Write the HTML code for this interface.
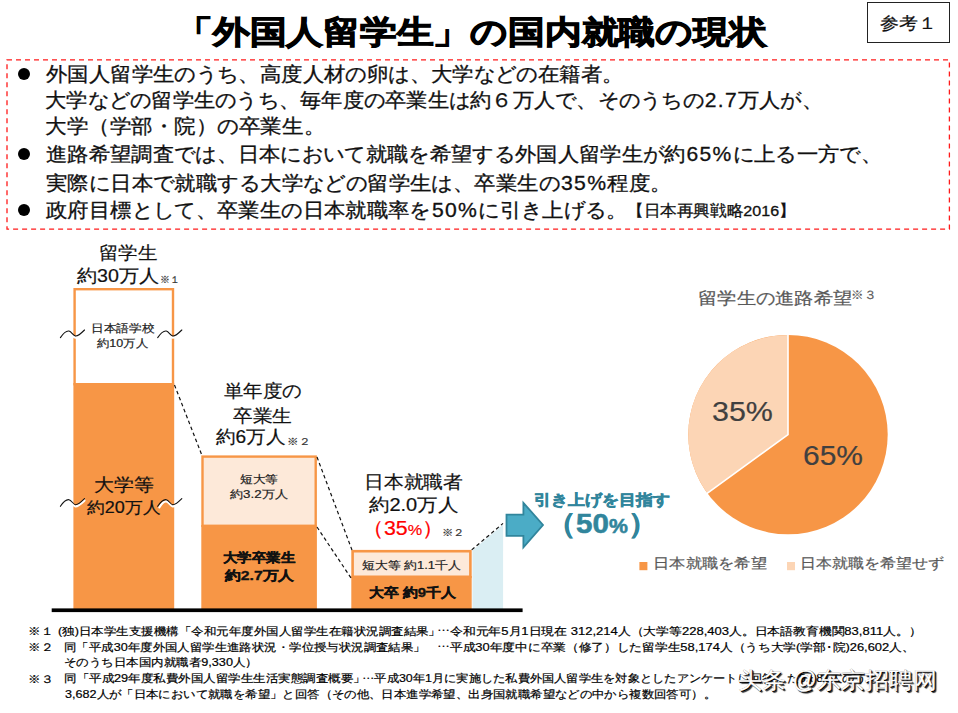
<!DOCTYPE html>
<html lang="ja">
<head>
<meta charset="utf-8">
<title>外国人留学生の国内就職の現状</title>
<style>
*{margin:0;padding:0;box-sizing:border-box;}
html,body{width:958px;height:713px;background:#fff;overflow:hidden;}
body{font-family:"Liberation Sans",sans-serif;color:#000;position:relative;}
.abs{position:absolute;white-space:nowrap;}
#title{font-weight:bold;line-height:1.2;-webkit-text-stroke:1px #000;transform-origin:0 0;color:#000;}
#ref{left:867.2px;top:1.6px;width:82.8px;height:41.2px;border:1.3px solid #222;font-size:0;}
.bl{-webkit-text-stroke:0.3px currentColor;font-size:19.8px;line-height:28px;left:45.5px;color:#111;transform-origin:0 0;transform:scaleX(1.07);}
.el{position:relative;top:-0.32em;}
.n{letter-spacing:1.2px;margin-left:1px;}
.dot{left:17.5px;width:12.5px;height:12.5px;border-radius:50%;background:#000;font-size:0;}
.t{transform-origin:0 0;line-height:1.2;color:#111;-webkit-text-stroke:0.2px currentColor;}
.f{color:#000;}
</style>
</head>
<body>
<div class="abs" id="title" style="left:176.07px;top:12.60px;font-size:32.00px;transform:scaleX(1.1493);">「外国人留学生」の国内就職の現状</div>
<div id="ref" class="abs"></div>
<div class="abs t" id="reft" style="left:879.93px;top:14.00px;font-size:16.80px;transform:scaleX(1.1149);color:#111;">参考１</div>

<!-- bullets -->
<div class="abs dot" style="top:67.5px">●</div>
<div class="abs bl" id="L1" style="left:46.10px;top:60px;transform:scaleX(1.0693)">外国人留学生のうち、高度人材の卵は、大学などの在籍者。</div>
<div class="abs bl" id="L2" style="left:44.51px;top:86px;transform:scaleX(1.0626)">大学などの留学生のうち、毎年度の卒業生は約６万人で、そのうちの<span class="n">2.7</span>万人が、</div>
<div class="abs bl" id="L3" style="left:45.49px;top:112px;transform:scaleX(1.0773)">大学（学部・院）の卒業生。</div>
<div class="abs dot" style="top:147.5px">●</div>
<div class="abs bl" id="L4" style="left:45.50px;top:140px;transform:scaleX(1.0659)">進路希望調査では、日本において就職を希望する外国人留学生が約<span class="n">65%</span>に上る一方で、</div>
<div class="abs bl" id="L5" style="left:45.50px;top:169px;transform:scaleX(1.0707)">実際に日本で就職する大学などの留学生は、卒業生の<span class="n">35%</span>程度。</div>
<div class="abs bl" id="L7" style="top:197px;left:627.16px;font-size:15.5px;transform:scaleX(1.0382)">【日本再興戦略2016】</div>
<div class="abs dot" style="top:203.5px">●</div>
<div class="abs bl" id="L6" style="left:45.50px;top:196px;transform:scaleX(1.0691)">政府目標として、卒業生の日本就職率を<span class="n">50%</span>に引き上げる。</div>

<!-- chart svg -->
<svg class="abs" style="left:0;top:0" width="958" height="713" viewBox="0 0 958 713">
  <rect x="7" y="59.8" width="942.4" height="169.3" fill="none" stroke="#ff1a1a" stroke-width="1.3" stroke-dasharray="5,4"/>
  <!-- bar 1 -->
  <rect x="73.4" y="383" width="100.8" height="226" fill="#f79646"/>
  <rect x="74.6" y="289.2" width="98.4" height="95" fill="#fff" stroke="#f79646" stroke-width="2.4"/>
  <!-- bar 2 -->
  <rect x="201.300" y="525" width="115.6" height="84" fill="#f79646"/>
  <rect x="202.500" y="456.6" width="113.2" height="69.2" fill="#fde9d9" stroke="#f79646" stroke-width="2.4"/>
  <!-- bar 3 -->
  <rect x="351.300" y="576" width="120.4" height="33" fill="#f79646"/>
  <rect x="352.600" y="551.2" width="117.8" height="25.6" fill="#fde9d9" stroke="#f79646" stroke-width="2.6"/>
  <!-- light blue -->
  <polygon points="472.400,550.4 503.100,524.4 503.100,609 472.400,609" fill="#daeef3"/>
  <!-- dashed connectors -->
  <g stroke="#111" stroke-width="1.2" stroke-dasharray="3.6,2.8" fill="none">
    <line x1="174.500" y1="385" x2="202" y2="455.5"/>
    <line x1="317" y1="457" x2="352" y2="550"/>
    <line x1="317" y1="527" x2="351" y2="578"/>
    <line x1="471.700" y1="549.9" x2="503" y2="523.4"/>
  </g>
  <!-- baseline -->
  <rect x="51.700" y="608.4" width="470.9" height="3.7" fill="#000"/>
  <!-- arrow -->
  <polygon points="506.500,514.6 523.400,514.6 523.400,502.8 543,525 523.400,547.4 523.400,535.8 506.500,535.8" fill="#4bacc6" stroke="#31859c" stroke-width="1.8" stroke-linejoin="miter"/>
  <!-- wave break marks -->
  <g fill="none" stroke-linecap="round">
    <g transform="translate(0,0)">
      <path d="M62,338.600 C64.500,334.800 66.800,332.400 69,332.700 C71.500,333 73,337.200 75.400,337.600 C78,338 81.500,334.600 84.500,331.800" stroke="#fff" stroke-width="2.2"/>
      <path d="M60.400,337.600 C63.500,333 66.500,330.600 69,331 C71.500,331.400 73,335.600 75.400,336 C78,336.400 81.500,333 84.500,330" stroke="#111" stroke-width="1.1"/>
    </g>
    <g transform="translate(97.3,0)">
      <path d="M62,338.600 C64.500,334.800 66.800,332.400 69,332.700 C71.500,333 73,337.200 75.400,337.600 C78,338 81.500,334.600 84.500,331.800" stroke="#fff" stroke-width="2.2"/>
      <path d="M60.400,337.600 C63.500,333 66.500,330.600 69,331 C71.500,331.400 73,335.600 75.400,336 C78,336.400 81.500,333 84.500,330" stroke="#111" stroke-width="1.1"/>
    </g>
    <g transform="translate(0,168.7)">
      <path d="M62,338.600 C64.500,334.800 66.800,332.400 69,332.700 C71.500,333 73,337.200 75.400,337.600 C78,338 81.500,334.600 84.500,331.800" stroke="#fff" stroke-width="2.2"/>
      <path d="M60.400,337.600 C63.500,333 66.500,330.600 69,331 C71.500,331.400 73,335.600 75.400,336 C78,336.400 81.500,333 84.500,330" stroke="#111" stroke-width="1.1"/>
    </g>
    <g transform="translate(97.3,168.7)">
      <path d="M62,338.600 C64.500,334.800 66.800,332.400 69,332.700 C71.500,333 73,337.200 75.400,337.600 C78,338 81.500,334.600 84.500,331.800" stroke="#fff" stroke-width="2.2"/>
      <path d="M60.400,337.600 C63.500,333 66.500,330.600 69,331 C71.500,331.400 73,335.600 75.400,336 C78,336.400 81.500,333 84.500,330" stroke="#111" stroke-width="1.1"/>
    </g>
  </g>
  <!-- pie -->
  <circle cx="788" cy="434.6" r="99.7" fill="#f79646"/>
  <path d="M788.0,434.6 L788.0,334.9 A99.7,99.7 0 0 0 707.3,493.2 Z" fill="#fcd5b5"/>
  <path d="M788.0,334.4 L788.0,434.6 L706.8,493.6" stroke="#fff" stroke-width="1.6" fill="none"/>
  <!-- legend squares -->
  <rect x="639.4" y="562" width="8" height="8.2" fill="#f79646"/>
  <rect x="787" y="562" width="8" height="8.2" fill="#fcd5b5"/>
</svg>

<!-- chart labels -->
<div class="abs t" id="A1" style="left:98.73px;top:242.95px;font-size:17.60px;transform:scaleX(1.0831);">留学生</div>
<div class="abs t" id="A2" style="left:77.22px;top:265.79px;font-size:17.60px;transform:scaleX(1.1172);">約30万人</div>
<div class="abs t" id="A3" style="left:159.65px;top:274.00px;font-size:10.20px;transform:scaleX(0.9885);color:#333;">※１</div>
<div class="abs t" id="A4" style="left:91.13px;top:322.42px;font-size:11.20px;transform:scaleX(1.1508);color:#222;">日本語学校</div>
<div class="abs t" id="A5" style="left:96.79px;top:336.81px;font-size:11.20px;transform:scaleX(1.1203);color:#222;">約10万人</div>
<div class="abs t" id="A6" style="left:93.77px;top:474.68px;font-size:17.60px;transform:scaleX(1.1079);">大学等</div>
<div class="abs t" id="A7" style="left:87.00px;top:498.26px;font-size:16.20px;transform:scaleX(1.1107);">約20万人</div>
<div class="abs t" id="B1" style="left:223.75px;top:380.69px;font-size:17.60px;transform:scaleX(1.0819);">単年度の</div>
<div class="abs t" id="B2" style="left:233.21px;top:405.57px;font-size:17.60px;transform:scaleX(1.0928);">卒業生</div>
<div class="abs t" id="B3" style="left:215.59px;top:426.99px;font-size:17.60px;transform:scaleX(1.0874);">約6万人</div>
<div class="abs t" id="B4" style="left:286.57px;top:435.50px;font-size:10.20px;transform:scaleX(1.1521);color:#333;">※２</div>
<div class="abs t" id="B5" style="left:240.05px;top:473.27px;font-size:11.20px;transform:scaleX(1.1536);color:#222;">短大等</div>
<div class="abs t" id="B6" style="left:230.00px;top:487.59px;font-size:11.20px;transform:scaleX(1.1894);color:#222;">約3.2万人</div>
<div class="abs t" id="B7" style="left:222.64px;top:550.42px;font-size:13.00px;transform:scaleX(1.1114);font-weight:bold;-webkit-text-stroke:0.35px currentColor;">大学卒業生</div>
<div class="abs t" id="B8" style="left:224.86px;top:568.36px;font-size:13.00px;transform:scaleX(1.2130);font-weight:bold;-webkit-text-stroke:0.35px currentColor;">約2.7万人</div>
<div class="abs t" id="C1" style="left:364.05px;top:472.30px;font-size:17.60px;transform:scaleX(1.1002);">日本就職者</div>
<div class="abs t" id="C2" style="left:369.23px;top:494.66px;font-size:17.60px;transform:scaleX(1.1358);">約2.0万人</div>
<div class="abs t" id="C3" style="left:362.19px;top:516.60px;font-size:19.50px;transform:scaleX(1.0961);color:#ff0000;">（35<span style="font-size:76%">%</span>）</div>
<div class="abs t" id="C4" style="left:442.12px;top:527.41px;font-size:10.20px;transform:scaleX(1.1294);color:#333;">※２</div>
<div class="abs t" id="C5" style="left:362.15px;top:559.43px;font-size:11.20px;transform:scaleX(1.1661);color:#222;">短大等 約1.1千人</div>
<div class="abs t" id="C6" style="left:368.64px;top:585.42px;font-size:13.00px;transform:scaleX(1.1427);font-weight:bold;-webkit-text-stroke:0.35px currentColor;">大卒 約9千人</div>
<div class="abs t" id="D1" style="left:533.57px;top:491.19px;font-size:15.20px;transform:scaleX(1.1288);font-weight:bold;color:#31859c;-webkit-text-stroke:0.55px currentColor;">引き上げを目指す</div>
<div class="abs t" id="D2" style="left:546.00px;top:506.53px;font-size:27.50px;transform:scaleX(1.0731);font-weight:bold;color:#31859c;-webkit-text-stroke:0.55px currentColor;">（50<span style="font-size:72%">%</span>）</div>
<div class="abs t" id="P1" style="left:698.40px;top:289.18px;font-size:17.00px;transform:scaleX(1.1324);color:#595959;">留学生の進路希望</div>
<div class="abs t" id="P2" style="left:851.14px;top:288.81px;font-size:11.50px;transform:scaleX(1.0417);color:#595959;">※３</div>
<div class="abs t" id="P3" style="left:712.14px;top:393.63px;font-size:28.50px;transform:scaleX(1.0669);color:#404040;">35%</div>
<div class="abs t" id="P4" style="left:802.63px;top:437.70px;font-size:28.50px;transform:scaleX(1.0514);color:#404040;">65%</div>
<div class="abs t" id="P5" style="left:652.94px;top:555.15px;font-size:14.30px;transform:scaleX(1.1608);color:#595959;">日本就職を希望</div>
<div class="abs t" id="P6" style="left:799.95px;top:554.65px;font-size:14.30px;transform:scaleX(1.1406);color:#595959;">日本就職を希望せず</div>

<!-- footnotes -->
<div class="abs t f" id="F1n" style="left:28.40px;top:624.50px;font-size:11.2px;transform:scaleX(1.1400);">※１</div>
<div class="abs t f" id="F1" style="left:57.60px;top:624.50px;font-size:11.2px;transform:scaleX(1.1349);">(独)日本学生支援機構「令和元年度外国人留学生在籍状況調査結果」</div>
<div class="abs t f" id="F1c" style="left:436.97px;top:624.50px;font-size:11.2px;transform:scaleX(1.1651);"><span class="el">…</span>令和元年5月1日現在 312,214人（大学等228,403人。日本語教育機関83,811人。）</div>
<div class="abs t f" id="F2n" style="left:28.40px;top:640.90px;font-size:11.2px;transform:scaleX(1.1400);">※２</div>
<div class="abs t f" id="F2" style="left:64.01px;top:640.90px;font-size:11.2px;transform:scaleX(1.1289);">同「平成30年度外国人留学生進路状況・学位授与状況調査結果」</div>
<div class="abs t f" id="F2c" style="left:436.98px;top:640.90px;font-size:11.2px;transform:scaleX(1.1551);"><span class="el">…</span>平成30年度中に卒業（修了）した留学生58,174人（うち大学(学部･院)26,602人、</div>
<div class="abs t f" id="F2b" style="left:64.47px;top:655.90px;font-size:11.2px;transform:scaleX(1.1341);">そのうち日本国内就職者9,330人）</div>
<div class="abs t f" id="F3n" style="left:28.40px;top:673.20px;font-size:11.2px;transform:scaleX(1.1400);">※３</div>
<div class="abs t f" id="F3a" style="left:63.97px;top:672.20px;font-size:11.2px;transform:scaleX(1.1373);">同「平成29年度私費外国人留学生生活実態調査概要」</div>
<div class="abs t f" id="F3c" style="left:361.99px;top:672.20px;font-size:11.2px;transform:scaleX(1.1120);"><span class="el">…</span>平成30年1月に実施した私費外国人留学生を対象としたアンケートに回答した5,681人のうち、</div>
<div class="abs t f" id="F3b" style="left:65.00px;top:688.00px;font-size:11.2px;transform:scaleX(1.1263);">3,682人が「日本において就職を希望」と回答（その他、日本進学希望、出身国就職希望などの中から複数回答可）。</div>

<!-- watermark -->
<div class="abs t" id="WM" style="left:738.00px;top:666.50px;font-size:23px;transform:scaleX(1.0426);color:#fff;-webkit-text-stroke:0.3px #fff;text-shadow:1.1px 1.1px 0.4px #000,1.7px 1.7px 0.8px rgba(0,0,0,.8),0.4px 0.4px 0 #000;">头条 @东京招聘网</div>
</body>
</html>
